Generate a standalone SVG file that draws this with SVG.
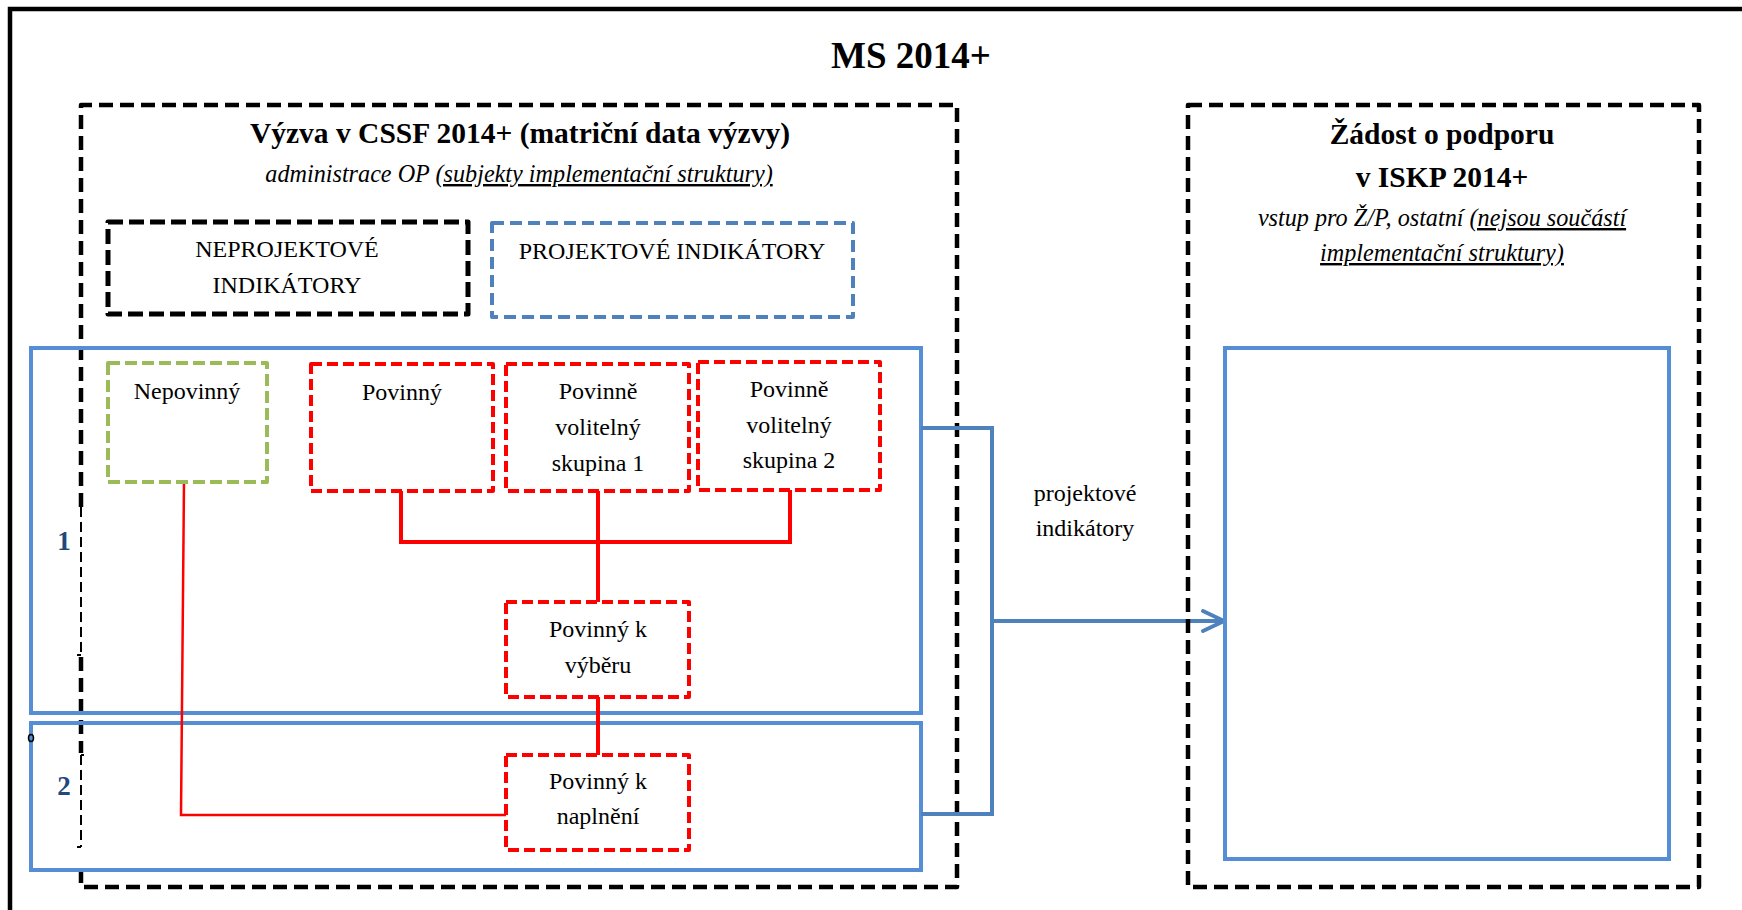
<svg xmlns="http://www.w3.org/2000/svg" width="1742" height="910" viewBox="0 0 1742 910">
<style>
text{font-family:"Liberation Serif","Times New Roman",serif;fill:#000}
.t24{font-size:24px}
.b29{font-size:29.5px;font-weight:bold}
.it{font-style:italic;font-size:24.2px}
.u{text-decoration:underline}
.bdash{fill:none;stroke:#000;stroke-width:4.5;stroke-dasharray:14 7;stroke-linejoin:round}
.red{fill:none;stroke:#FF0000;stroke-width:4;stroke-dasharray:11 5;stroke-linejoin:round}
.blue{fill:none;stroke:#558ED5;stroke-width:4}
.conn{fill:none;stroke:#FF0000;stroke-width:4}
.br{fill:none;stroke:#4F81BD;stroke-width:4}
.num{font-size:27px;font-weight:bold;fill:#1F497D}
</style>
<rect width="1742" height="910" fill="#fff"/>
<path d="M10 910 V9 H1742" fill="none" stroke="#000" stroke-width="4.5"/>
<text x="911" y="68" text-anchor="middle" style="font-size:37px;font-weight:bold">MS 2014+</text>

<g id="vyzva">
<path class="bdash" d="M81 507 V105 H957 V887 H81 V862"/>
<path d="M81 507 V655" fill="none" stroke="#000" stroke-width="2" stroke-dasharray="10 5"/>
<path d="M77 655 H81" fill="none" stroke="#000" stroke-width="2"/>
<path d="M81 657 V753" class="bdash"/>
<path d="M81 755 V847" fill="none" stroke="#000" stroke-width="2" stroke-dasharray="10 5"/>
<path d="M81 755 H84 M77 847 H81" fill="none" stroke="#000" stroke-width="2"/>
<text x="520" y="143" text-anchor="middle" class="b29">Výzva v CSSF 2014+ (matriční data výzvy)</text>
<text x="519" y="182" text-anchor="middle" class="it">administrace OP <tspan class="u">(subjekty implementační struktury)</tspan></text>
</g>

<g id="neprojektove">
<rect x="108" y="222" width="360" height="92" fill="none" stroke="#000" stroke-width="5" stroke-dasharray="15 6" stroke-linejoin="round"/>
<text x="287" y="257" text-anchor="middle" class="t24">NEPROJEKTOVÉ</text>
<text x="287" y="293" text-anchor="middle" class="t24">INDIKÁTORY</text>
</g>

<g id="projektove">
<rect x="492" y="223" width="361" height="94" fill="none" stroke="#4F81BD" stroke-width="4" stroke-dasharray="12 6" stroke-linejoin="round"/>
<text x="672" y="259" text-anchor="middle" class="t24">PROJEKTOVÉ INDIKÁTORY</text>
</g>

<g id="blok1">
<rect class="blue" x="31" y="348" width="890" height="365"/>
<text x="64" y="550" text-anchor="middle" class="num">1</text>
</g>
<g id="blok2">
<rect class="blue" x="31" y="723" width="890" height="147"/>
<text x="64" y="795" text-anchor="middle" class="num">2</text>
<ellipse cx="31" cy="738" rx="2.5" ry="3.5" fill="none" stroke="#000" stroke-width="1.5"/>
</g>

<g id="connectors">
<path class="conn" d="M401 491 V542 H790 V490 M598 491 V602 M598 697 V755"/>
<path d="M184 482 L181 815 H506" fill="none" stroke="#FF0000" stroke-width="2.5"/>
<path class="br" d="M921 428 H992 V814 H921 M992 621 H1223"/>
<path class="br" d="M1203 611 L1224 621 L1203 631" stroke-linecap="round" stroke-linejoin="round"/>
</g>

<g id="nepovinny">
<rect x="108" y="363" width="159" height="119" fill="none" stroke="#9BBB59" stroke-width="4" stroke-dasharray="12 5" stroke-linejoin="round"/>
<text x="187" y="399" text-anchor="middle" class="t24">Nepovinný</text>
</g>
<g id="povinny">
<rect class="red" x="311" y="364" width="182" height="127"/>
<text x="402" y="400" text-anchor="middle" class="t24">Povinný</text>
</g>
<g id="volitelny1">
<rect class="red" x="506" y="364" width="183" height="127"/>
<text x="598" y="399" text-anchor="middle" class="t24">Povinně</text>
<text x="598" y="435" text-anchor="middle" class="t24">volitelný</text>
<text x="598" y="471" text-anchor="middle" class="t24">skupina 1</text>
</g>
<g id="volitelny2">
<rect class="red" x="698" y="362" width="182" height="128"/>
<text x="789" y="397" text-anchor="middle" class="t24">Povinně</text>
<text x="789" y="433" text-anchor="middle" class="t24">volitelný</text>
<text x="789" y="468" text-anchor="middle" class="t24">skupina 2</text>
</g>
<g id="vyber">
<rect class="red" x="506" y="602" width="183" height="95"/>
<text x="598" y="637" text-anchor="middle" class="t24">Povinný k</text>
<text x="598" y="673" text-anchor="middle" class="t24">výběru</text>
</g>
<g id="naplneni">
<rect class="red" x="506" y="755" width="183" height="95"/>
<text x="598" y="789" text-anchor="middle" class="t24">Povinný k</text>
<text x="598" y="824" text-anchor="middle" class="t24">naplnění</text>
</g>

<g id="label-projektove">
<text x="1085" y="501" text-anchor="middle" class="t24">projektové</text>
<text x="1085" y="536" text-anchor="middle" class="t24">indikátory</text>
</g>

<g id="zadost">
<rect class="bdash" x="1188" y="105" width="511" height="782"/>
<text x="1442" y="144" text-anchor="middle" class="b29">Žádost o podporu</text>
<text x="1442" y="187" text-anchor="middle" class="b29">v ISKP 2014+</text>
<text x="1442" y="226" text-anchor="middle" class="it">vstup pro Ž/P, ostatní <tspan class="u">(nejsou součástí</tspan></text>
<text x="1442" y="261" text-anchor="middle" class="it u">implementační struktury)</text>
</g>
<g id="iskp">
<rect class="blue" x="1225" y="348" width="444" height="511"/>
</g>
</svg>
